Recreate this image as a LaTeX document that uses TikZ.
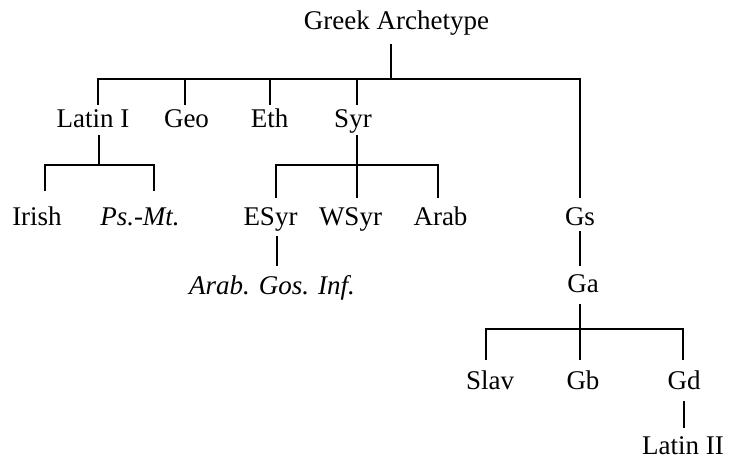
\documentclass[tikz,border=0pt]{standalone}
\usepackage{fontspec}
\setmainfont{Liberation Serif}[
  ItalicFont={Liberation Serif Italic},
  BoldFont={Liberation Serif Bold}]
\begin{document}
\begin{tikzpicture}[x=1pt,y=-1pt,
  lbl/.style={anchor=base,inner sep=0pt,font=\fontsize{27}{30}\selectfont},
  conn/.style={line width=1.4pt,line cap=rect,line join=miter}]
\useasboundingbox (0,0) rectangle (729,462);

% labels
\node[lbl] (root) at (396.5,30) {Greek Archetype};
\node[lbl] (lat1) at (93,128) {Latin I};
\node[lbl] (geo)  at (186.5,128) {Geo};
\node[lbl] (eth)  at (269.5,128) {Eth};
\node[lbl] (syr)  at (353,128) {Syr};
\node[lbl] (irish) at (37,226) {Irish};
\node[lbl] (psmt) at (140,226) {\itshape Ps.-Mt.};
\node[lbl] (esyr) at (270.5,226) {ESyr};
\node[lbl] (wsyr) at (350.5,226) {WSyr};
\node[lbl] (arab) at (440.5,226) {Arab};
\node[lbl] (gs)   at (580,226) {Gs};
\node[lbl] (agi)  at (272,295) {\itshape Arab. Gos. Inf.};
\node[lbl] (ga)   at (583,293) {Ga};
\node[lbl] (slav) at (490,390) {Slav};
\node[lbl] (gb)   at (583,390) {Gb};
\node[lbl] (gd)   at (684,390) {Gd};
\node[lbl] (lat2) at (683,455) {Latin II};

% junction points and connector ends
\coordinate (r0) at (391,45);
\coordinate (r1) at (391,79);
\coordinate (bL) at (98,79);
\coordinate (bR) at (580,79);
\coordinate (tLat1) at (98,104);
\coordinate (tGeo) at (185,104);
\coordinate (tEth) at (270,104);
\coordinate (tSyr) at (357,104);
\coordinate (tGs) at (580,197);

\coordinate (l0) at (99,136);
\coordinate (l1) at (99,165);
\coordinate (lL) at (45,165);
\coordinate (lR) at (154,165);
\coordinate (tIrish) at (45,190);
\coordinate (tPsmt) at (154,190);

\coordinate (s0) at (357,136);
\coordinate (s1) at (357,165);
\coordinate (sL) at (276,165);
\coordinate (sR) at (438,165);
\coordinate (tEsyr) at (276,197);
\coordinate (tWsyr) at (357,197);
\coordinate (tArab) at (438,197);

\coordinate (e0) at (277,237);
\coordinate (e1) at (277,265);

\coordinate (g0) at (580,232);
\coordinate (g1) at (580,265);

\coordinate (a0) at (580,305);
\coordinate (a1) at (580,329);
\coordinate (aL) at (486,329);
\coordinate (aR) at (683,329);
\coordinate (tSlav) at (486,359);
\coordinate (tGb) at (580,359);
\coordinate (tGd) at (683,359);

\coordinate (d0) at (684,402);
\coordinate (d1) at (684,427);

% root branch
\draw[conn] (r0) -- (r1);
\draw[conn] (tLat1) -- (bL) -- (bR) -- (tGs);
\draw[conn] (tGeo) -- (tGeo |- bL);
\draw[conn] (tEth) -- (tEth |- bL);
\draw[conn] (tSyr) -- (tSyr |- bL);

% Latin I branch
\draw[conn] (l0) -- (l1);
\draw[conn] (tIrish) -- (lL) -- (lR) -- (tPsmt);

% Syr branch
\draw[conn] (s0) -- (s1);
\draw[conn] (tEsyr) -- (sL) -- (sR) -- (tArab);
\draw[conn] (tWsyr) -- (s1);

% ESyr to Arab. Gos. Inf.
\draw[conn] (e0) -- (e1);

% Gs to Ga
\draw[conn] (g0) -- (g1);

% Ga branch
\draw[conn] (a0) -- (a1);
\draw[conn] (tSlav) -- (aL) -- (aR) -- (tGd);
\draw[conn] (tGb) -- (a1);

% Gd to Latin II
\draw[conn] (d0) -- (d1);
\end{tikzpicture}
\end{document}
